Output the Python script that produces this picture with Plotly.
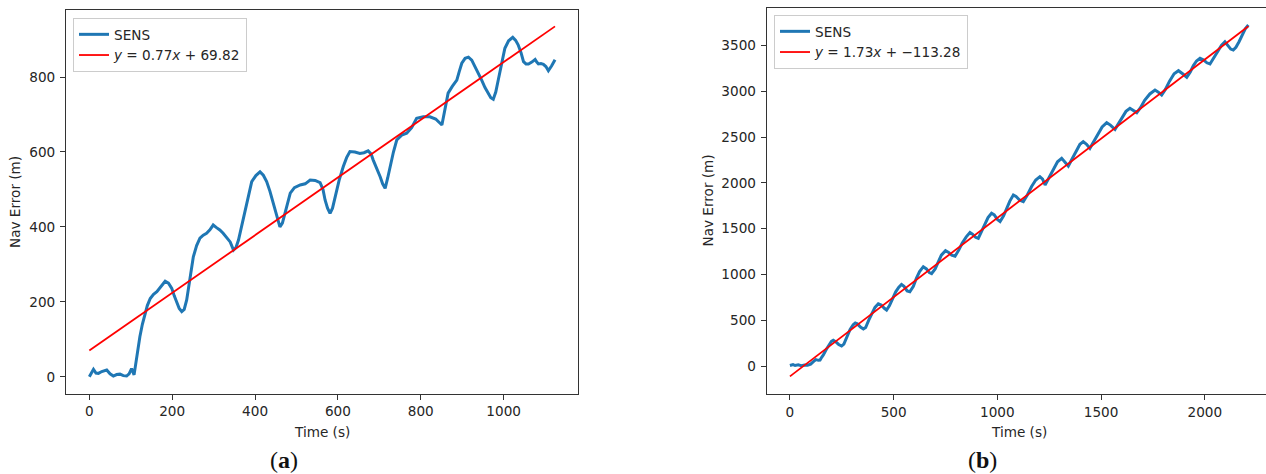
import plotly.graph_objects as go

W, H = 1266, 474

# ---------------- data ----------------
a_time = [0, 5, 10, 16, 22, 30, 42, 50, 58, 66, 74, 82, 90, 96, 102, 108, 114, 122, 128, 134,
          140, 147, 155, 163, 173, 183, 191, 199, 205, 211, 217, 223, 229, 235, 243, 251, 259,
          267, 275, 283, 291, 299, 307, 315, 323, 332, 340, 348, 354, 360, 370, 380, 392, 402,
          412, 420, 428, 436, 444, 452, 460, 466, 472, 478, 485, 495, 509, 521, 533, 545, 557,
          564, 569, 575, 581, 587, 593, 603, 613, 621, 629, 641, 653, 663, 673, 680, 685, 693,
          702, 708, 714, 720, 726, 734, 742, 754, 766, 778, 790, 806, 822, 836, 851, 858, 866,
          876, 887, 893, 899, 907, 915, 923, 931, 939, 947, 955, 963, 969, 975, 981, 987, 995,
          1003, 1012, 1022, 1029, 1035, 1042, 1048, 1054, 1060, 1068, 1076, 1080, 1084, 1090,
          1096, 1102, 1108, 1116, 1124]
a_error = [0, 12, 20, 10, 9, 14, 18, 8, 2, 6, 7, 3, 2, 8, 22, 5, 53, 107, 140, 169,
           190, 209, 220, 227, 240, 255, 250, 236, 216, 196, 182, 174, 180, 205, 258, 320, 350,
           370, 378, 383, 392, 405, 398, 392, 383, 372, 360, 338, 345, 365, 415, 463, 521, 537,
           547, 538, 521, 495, 463, 430, 400, 410, 436, 465, 490, 505, 512, 515, 525, 524, 518,
           500, 472, 450, 436, 450, 481, 525, 561, 585, 601, 600, 596, 598, 603, 595, 579, 560,
           534, 515, 503, 530, 561, 600, 632, 645, 650, 665, 690, 694, 694, 688, 672, 710, 757,
           775, 792, 815, 837, 850, 853, 845, 828, 810, 792, 772, 757, 745, 741, 760, 792, 838,
           877, 897, 906, 898, 886, 865, 841, 835, 835, 840, 847, 840, 835, 836,
           834, 828, 817, 830, 846]
a_slope, a_intercept = 0.77, 69.82
a_fit_x = [0, 1124]

b_time = [0, 15, 25, 40, 55, 70, 85, 100, 113, 125, 137, 145, 153, 161, 175, 190, 200, 209, 220,
          235, 249, 260, 275, 290, 305, 315, 325, 340, 354, 365, 380, 395, 410, 426, 440, 455,
          466, 480, 495, 510, 525, 538, 550, 565, 578, 595, 610, 625, 643, 658, 672, 683, 700,
          715, 730, 750, 765, 780, 796, 815, 830, 850, 868, 880, 895, 908, 925, 940, 955, 972,
          985, 1000, 1013, 1030, 1045, 1060, 1077, 1090, 1108, 1125, 1145, 1165, 1185, 1205,
          1218, 1230, 1250, 1270, 1290, 1310, 1325, 1342, 1360, 1380, 1398, 1414, 1430, 1446,
          1465, 1485, 1505, 1527, 1545, 1567, 1585, 1600, 1620, 1639, 1655, 1672, 1690, 1710,
          1735, 1760, 1776, 1792, 1810, 1830, 1852, 1873, 1893, 1913, 1930, 1945, 1960, 1977,
          1995, 2010, 2025, 2045, 2060, 2080, 2097, 2110, 2125, 2137, 2150, 2165, 2180, 2195, 2210]
b_error = [5, 15, 5, 12, 3, 10, 8, 20, 47, 70, 62, 65, 95, 120, 180, 240, 268, 280, 265,
           235, 218, 240, 330, 400, 450, 470, 460, 425, 405, 420, 500, 580, 640, 680, 665, 630,
           611, 660, 740, 810, 860, 890, 870, 820, 811, 870, 960, 1030, 1084, 1060, 1020, 1008, 1060,
           1140, 1210, 1259, 1240, 1210, 1198, 1270, 1340, 1410, 1457, 1440, 1405, 1394, 1470, 1550, 1620, 1667,
           1650, 1600, 1578, 1640, 1720, 1800, 1867, 1850, 1810, 1794, 1870, 1960, 2030, 2067,
           2040, 1976, 2060, 2150, 2230, 2267, 2230, 2183, 2260, 2350, 2420, 2449, 2420, 2376,
           2450, 2540, 2610, 2656, 2630, 2584, 2650, 2720, 2780, 2813, 2790, 2766, 2820, 2900,
           2970, 3013, 2990, 2959, 3020, 3110, 3190, 3224, 3190, 3152, 3210, 3280, 3330, 3359,
           3340, 3310, 3297, 3370, 3440, 3500, 3540, 3500, 3460, 3450, 3480, 3540, 3610, 3680, 3723]
b_slope, b_intercept = 1.73, -113.28
b_fit_x = [0, 2210]

a_xticks = [0, 200, 400, 600, 800, 1000]
a_yticks = [0, 200, 400, 600, 800]
b_xticks = [0, 500, 1000, 1500, 2000]
b_yticks = [0, 500, 1000, 1500, 2000, 2500, 3000, 3500]

series_name = "SENS"
a_fit_name = "<i>y</i> = 0.77<i>x</i> + 69.82"
b_fit_name = "<i>y</i> = 1.73<i>x</i> + \u2212113.28"
x_title = "Time (s)"
y_title = "Nav Error (m)"
captions = ["(<b>a</b>)", "(<b>b</b>)"]

# ---------------- figure ----------------
BLUE = "#1f77b4"
RED = "#ff0000"
FONT = "DejaVu Sans"
INK = "#262626"
FS = 13.6

fig = go.Figure()
fig.add_trace(go.Scatter(x=a_time, y=a_error, mode="lines", name=series_name,
                         line=dict(color=BLUE, width=3), xaxis="x", yaxis="y", legend="legend"))
fig.add_trace(go.Scatter(x=a_fit_x, y=[a_slope * v + a_intercept for v in a_fit_x], mode="lines",
                         name=a_fit_name, line=dict(color=RED, width=1.8),
                         xaxis="x", yaxis="y", legend="legend"))
fig.add_trace(go.Scatter(x=b_time, y=b_error, mode="lines", name=series_name,
                         line=dict(color=BLUE, width=3), xaxis="x2", yaxis="y2", legend="legend2"))
fig.add_trace(go.Scatter(x=b_fit_x, y=[b_slope * v + b_intercept for v in b_fit_x], mode="lines",
                         name=b_fit_name, line=dict(color=RED, width=1.8),
                         xaxis="x2", yaxis="y2", legend="legend2"))

axis_common = dict(showgrid=False, zeroline=False, showline=True, linecolor="#333333", linewidth=1,
                   ticks="outside", ticklen=5, tickwidth=1, tickcolor="#333333",
                   tickfont=dict(family=FONT, size=FS, color=INK), tickmode="array",
                   automargin=False)

fig.update_layout(
    width=W, height=H, autosize=False,
    margin=dict(l=0, r=0, t=0, b=0, pad=0),
    paper_bgcolor="white", plot_bgcolor="white",
    font=dict(family=FONT, size=FS, color=INK),
    xaxis=dict(domain=[66 / W, 578 / W], range=[-56.3, 1179.5], tickvals=a_xticks,
               mirror=True, anchor="y", **axis_common),
    yaxis=dict(domain=[(H - 394) / H, (H - 10) / H], range=[-46, 979], tickvals=a_yticks,
               mirror=True, anchor="x", ticklabelstandoff=2, **axis_common),
    xaxis2=dict(domain=[766.7 / W, 1.0], range=[-112, 2295], tickvals=b_xticks,
                mirror=True, anchor="y2", **axis_common),
    yaxis2=dict(domain=[(H - 394.3) / H, (H - 8.3) / H], range=[-309, 3905], tickvals=b_yticks,
                mirror=False, anchor="x2", ticklabelstandoff=2, **axis_common),
    legend=dict(x=73 / W, y=1 - 18 / H, xanchor="left", yanchor="top",
                bgcolor="rgba(255,255,255,0.8)", bordercolor="#cccccc", borderwidth=1,
                font=dict(family=FONT, size=FS, color=INK)),
    legend2=dict(x=774 / W, y=1 - 15 / H, xanchor="left", yanchor="top",
                 bgcolor="rgba(255,255,255,0.8)", bordercolor="#cccccc", borderwidth=1,
                 font=dict(family=FONT, size=FS, color=INK)),
    showlegend=True,
)

ann = []
# x-axis titles
for cx in (322, 1019):
    ann.append(dict(text=x_title, x=cx / W, y=1 - 432 / H, xref="paper", yref="paper",
                    showarrow=False, xanchor="center", yanchor="middle",
                    font=dict(family=FONT, size=FS, color=INK)))
# y-axis titles
for cx, cy in ((15, 202), (707.5, 201)):
    ann.append(dict(text=y_title, x=cx / W, y=1 - cy / H, xref="paper", yref="paper",
                    showarrow=False, xanchor="center", yanchor="middle", textangle=-90,
                    font=dict(family=FONT, size=FS, color=INK)))
# captions
for cx, txt in ((284, captions[0]), (982, captions[1])):
    ann.append(dict(text=txt, x=cx / W, y=1 - 460 / H, xref="paper", yref="paper",
                    showarrow=False, xanchor="center", yanchor="middle",
                    font=dict(family="Liberation Serif", size=24, color="#111111")))
fig.update_layout(annotations=ann)

fig.write_html("out.html")
